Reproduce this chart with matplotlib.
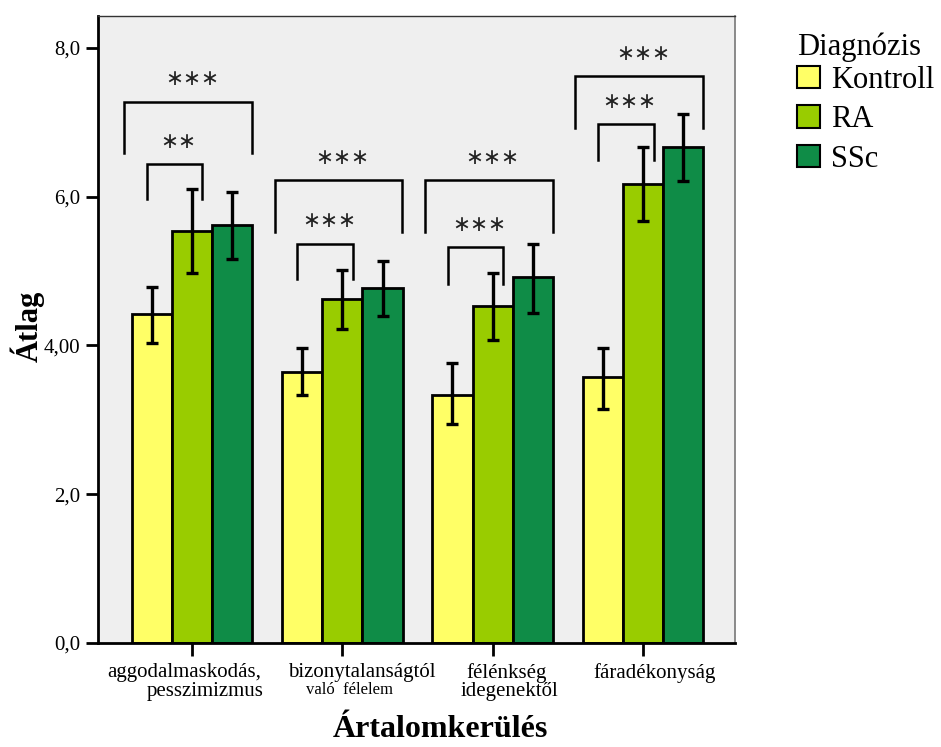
import numpy as np
import matplotlib
matplotlib.use("Agg")
from matplotlib import pyplot as plt
from matplotlib.patches import Patch

plt.rcParams['font.family'] = ['Liberation Serif', 'DejaVu Sans']

groups = ['aggodalmaskodás,', 'bizonytalanságtól', 'félénkség', 'fáradékonyság']
groups_line2 = ['pesszimizmus', 'való  félelem', 'idegenektől', '']
series = ['Kontroll', 'RA', 'SSc']
colors = ['#FFFF66', '#99CC00', '#0F8C47']

kontroll = [4.42, 3.65, 3.34, 3.57]
ra = [5.54, 4.62, 4.53, 6.17]
ssc = [5.62, 4.77, 4.92, 6.67]
kontroll_lo = [4.03, 3.33, 2.94, 3.15]
kontroll_hi = [4.79, 3.97, 3.76, 3.97]
ra_lo = [4.98, 4.22, 4.08, 5.67]
ra_hi = [6.10, 5.02, 4.97, 6.67]
ssc_lo = [5.16, 4.40, 4.44, 6.21]
ssc_hi = [6.06, 5.13, 5.37, 7.11]

# significance brackets: (top, leg bottom, label)
outer_top = [7.28, 6.22, 6.22, 7.62]
outer_leg = [6.59, 5.52, 5.52, 6.92]
outer_lab = ['***', '***', '***', '***']
inner_top = [6.44, 5.37, 5.32, 6.98]
inner_leg = [5.97, 4.89, 4.83, 6.50]
inner_lab = ['**', '***', '***', '***']

ytick_vals = [0, 2, 4, 6, 8]
ytick_labels = ['0,0', '2,0', '4,00', '6,0', '8,0']

fig = plt.figure(figsize=(9.41, 7.47), dpi=100)
ax = fig.add_axes([98 / 941, 1 - 643 / 747, (735 - 98) / 941, (643 - 16) / 747])
ax.set_facecolor('#EFEFEF')

x = np.arange(len(groups))
w = 0.268
means = [kontroll, ra, ssc]
los = [kontroll_lo, ra_lo, ssc_lo]
his = [kontroll_hi, ra_hi, ssc_hi]
for k in range(3):
    xs = x + (k - 1) * w
    m = np.array(means[k])
    err = [m - np.array(los[k]), np.array(his[k]) - m]
    ax.bar(xs, m, width=w, color=colors[k], edgecolor='black', linewidth=2.0, zorder=2)
    ax.errorbar(xs, m, yerr=err, fmt='none', ecolor='black', elinewidth=2.4,
                capsize=4.5, capthick=2.4, zorder=3)

star_font = dict(family='DejaVu Sans', fontsize=15.5, color='#222222', ha='center', va='center')
for i in range(len(groups)):
    # outer bracket (Kontroll vs SSc)
    x0, x1 = i - 0.45, i + 0.40
    ax.plot([x0, x0, x1, x1], [outer_leg[i], outer_top[i], outer_top[i], outer_leg[i]],
            color='black', linewidth=1.8, zorder=4, solid_joinstyle='miter')
    ax.text(i + 0.0, outer_top[i] + 0.30, outer_lab[i].replace('*', '∗'), **star_font)
    # inner bracket (Kontroll vs RA)
    x0, x1 = i - 0.30, i + 0.07
    ax.plot([x0, x0, x1, x1], [inner_leg[i], inner_top[i], inner_top[i], inner_leg[i]],
            color='black', linewidth=1.8, zorder=4, solid_joinstyle='miter')
    ax.text(i - 0.09, inner_top[i] + 0.30, inner_lab[i].replace('*', '∗'), **star_font)

ax.set_xlim(-0.625, 3.612)
ax.set_ylim(0, 8.43)
ax.set_yticks(ytick_vals)
ax.set_yticklabels(ytick_labels, fontsize=15)
ax.set_xticks(x)
ax.set_xticklabels([])
ax.tick_params(axis='y', length=9, width=2, direction='out', pad=4)
ax.tick_params(axis='x', length=9, width=2, direction='out')

ax.spines['left'].set_linewidth(2)
ax.spines['bottom'].set_linewidth(2)
ax.spines['top'].set_color('#333333')
ax.spines['top'].set_linewidth(1)
ax.spines['right'].set_color('#777777')
ax.spines['right'].set_linewidth(1.2)

# category labels (two lines, slightly off-centre like the original)
trans = ax.get_xaxis_transform()
lab_dx = [-0.05, 0.13, 0.09, 0.08]
lab2_dx = [0.09, 0.05, 0.11, 0.0]
lab2_size = [15, 12, 15, 15]
for i in range(len(groups)):
    ax.text(i + lab_dx[i], -0.032, groups[i], transform=trans, ha='center', va='top', fontsize=15)
    if groups_line2[i]:
        ax.text(i + lab2_dx[i], -0.062, groups_line2[i], transform=trans, ha='center', va='top',
                fontsize=lab2_size[i])

ax.set_xlabel('Ártalomkerülés', fontsize=23, fontweight='bold')
ax.xaxis.set_label_coords(0.537, -0.115)
ax.set_ylabel('Átlag', fontsize=22, fontweight='bold')
ax.yaxis.set_label_coords(-0.084, 0.505)

handles = [Patch(facecolor=c, edgecolor='black', linewidth=1.5) for c in colors]
leg = fig.legend(handles, series, title='Diagnózis', loc='upper left',
                 bbox_to_anchor=(785 / 941, 1 - 20 / 747), frameon=False,
                 fontsize=22, title_fontsize=22, handlelength=0.75, handleheight=0.75,
                 handletextpad=0.35, labelspacing=0.34, borderaxespad=0)
leg._legend_box.align = 'left'
leg._legend_box.sep = 3

fig.savefig('out.png', dpi=100)
